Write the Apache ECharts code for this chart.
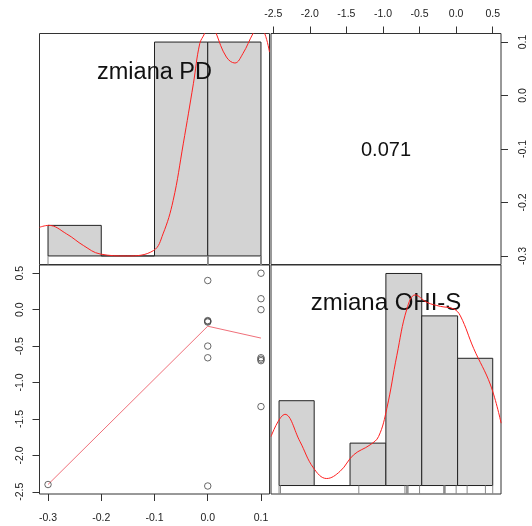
<!DOCTYPE html>
<html><head><meta charset="utf-8">
<script src="https://cdn.jsdelivr.net/npm/echarts@6/dist/echarts.min.js"></script>
<style>html,body{margin:0;padding:0;background:#fff}#c{width:532px;height:526px}</style>
</head><body><div id="c"></div>
<script>
// ---- data ----
const varNames = ['zmiana PD', 'zmiana OHI-S'];
const corText = '0.071';
const pdValues  = [-0.3, 0, 0, 0, 0, 0, 0, 0, 0.1, 0.1, 0.1, 0.1, 0.1, 0.1, 0.1];
const ohiValues = [-2.4, 0.4, -0.15, -0.16, -0.17, -0.5, -0.66, -2.42, 0.5, 0.15, 0.0, -0.66, -0.68, -0.7, -1.33];
const pdBreaks  = [-0.3, -0.2, -0.1, 0, 0.1];
const pdCounts  = [1, 0, 7, 7];
const ohiBreaks = [-2.42, -1.94, -1.45, -0.96, -0.47, 0.02, 0.5];
const ohiCounts = [2, 0, 1, 5, 4, 3];
const pdDensX = [-0.316, -0.299, -0.265, -0.233, -0.202, -0.152, -0.102, -0.084, -0.065, -0.046, -0.027, -0.015, -0.006, 0.005, 0.016, 0.035, 0.051, 0.066, 0.085, 0.096, 0.107, 0.116];
const pdDensY = [0.134, 0.143, 0.103, 0.048, 0.009, 0.0, 0.025, 0.103, 0.259, 0.524, 0.805, 0.993, 1.04, 1.12, 1.04, 0.93, 0.902, 0.946, 1.04, 1.08, 1.04, 0.953];
const ohiDensX = [-2.53, -2.34, -2.135, -1.95, -1.77, -1.586, -1.40, -1.175, -1.06, -0.947, -0.81, -0.673, -0.559, -0.40, -0.216, -0.034, 0.058, 0.24, 0.47, 0.615];
const ohiDensY = [0.231, 0.336, 0.208, 0.083, 0.033, 0.067, 0.145, 0.192, 0.231, 0.364, 0.614, 0.833, 0.899, 0.864, 0.845, 0.833, 0.80, 0.646, 0.474, 0.294];
const smoothX = [-0.3, 0, 0.1];
const smoothY = [-2.4, -0.227, -0.39];
const pdTicks  = [-0.3, -0.2, -0.1, 0, 0.1];
const ohiTicks = [-2.5, -2, -1.5, -1, -0.5, 0, 0.5];

// ---- build ----
const pdRange = [-0.316, 0.116];
const ohiRange = [-2.53, 0.613];
const histRange = [-0.04, 1.04];
const FONT = '"Liberation Sans", Arial, sans-serif';
const zip = (a, b) => a.map((v, i) => [v, b[i]]);

function hiddenAxis(grid, r) {
  return {type: 'value', gridIndex: grid, min: r[0], max: r[1], show: false};
}
function shownAxis(grid, r, pos, ticks, margin, rotate) {
  return {
    type: 'value', gridIndex: grid, min: r[0], max: r[1], position: pos,
    splitLine: {show: false}, axisLine: {show: false, onZero: false},
    axisTick: {show: true, length: 7, customValues: ticks, lineStyle: {color: '#333', width: 1}},
    axisLabel: {show: true, customValues: ticks, formatter: v => Number(v).toFixed(1),
      fontSize: 10.5, color: '#222', fontFamily: FONT, margin: margin, rotate: rotate || 0}
  };
}
function histSeries(xi, breaks, counts) {
  const mx = Math.max(...counts);
  return {
    type: 'custom', xAxisIndex: xi, yAxisIndex: xi, z: 2, clip: true,
    data: counts.map((c, i) => [breaks[i], breaks[i + 1], c / mx]),
    renderItem: (params, api) => {
      const p0 = api.coord([api.value(0), 0]);
      const p1 = api.coord([api.value(1), api.value(2)]);
      return {type: 'rect', shape: {x: p0[0], y: p1[1], width: p1[0] - p0[0], height: p0[1] - p1[1]},
        style: {fill: '#d3d3d3', stroke: '#222', lineWidth: 1}};
    }
  };
}
function rugSeries(xi, vals) {
  return {
    type: 'custom', xAxisIndex: xi, yAxisIndex: xi, z: 2,
    data: vals.map(v => [v]),
    renderItem: (params, api) => {
      const a = api.coord([api.value(0), histRange[0]]);
      const b = api.coord([api.value(0), 0]);
      return {type: 'line', shape: {x1: a[0], y1: a[1], x2: b[0], y2: b[1]},
        style: {stroke: '#888', lineWidth: 1}};
    }
  };
}
function densSeries(xi, xs, ys) {
  return {type: 'line', xAxisIndex: xi, yAxisIndex: xi, data: zip(xs, ys), smooth: 0.4,
    showSymbol: false, symbol: 'none', clip: true, z: 5, silent: true,
    lineStyle: {color: '#ff2020', width: 1}};
}

const gridStyle = {show: true, borderColor: '#333', borderWidth: 1, backgroundColor: 'transparent'};
const option = {
  animation: false,
  backgroundColor: '#fff',
  grid: [
    Object.assign({left: 39.5, top: 33.5, width: 230, height: 231}, gridStyle),
    Object.assign({left: 271, top: 33.5, width: 230, height: 231}, gridStyle),
    Object.assign({left: 39.5, top: 265, width: 230, height: 229}, gridStyle),
    Object.assign({left: 271, top: 265, width: 230, height: 229}, gridStyle)
  ],
  xAxis: [
    hiddenAxis(0, pdRange),
    shownAxis(1, ohiRange, 'top', ohiTicks, 14),
    shownAxis(2, pdRange, 'bottom', pdTicks, 19),
    hiddenAxis(3, ohiRange)
  ],
  yAxis: [
    hiddenAxis(0, histRange),
    shownAxis(1, pdRange, 'right', pdTicks, 17, 90),
    shownAxis(2, ohiRange, 'left', ohiTicks, 14, 90),
    hiddenAxis(3, histRange)
  ],
  graphic: [
    {type: 'text', z: 3, x: 154.5, y: 73, style: {text: varNames[0], fontSize: 23.5, fontFamily: FONT, fill: '#111', align: 'center', verticalAlign: 'middle'}},
    {type: 'text', z: 3, x: 386, y: 303, style: {text: varNames[1], fontSize: 24, fontFamily: FONT, fill: '#111', align: 'center', verticalAlign: 'middle'}},
    {type: 'text', z: 3, x: 386, y: 150, style: {text: corText, fontSize: 20, fontFamily: FONT, fill: '#111', align: 'center', verticalAlign: 'middle'}}
  ],
  series: [
    histSeries(0, pdBreaks, pdCounts),
    rugSeries(0, pdValues),
    densSeries(0, pdDensX, pdDensY),
    {type: 'scatter', xAxisIndex: 2, yAxisIndex: 2, data: zip(pdValues, ohiValues), symbol: 'circle',
      symbolSize: 6.5, itemStyle: {color: 'rgba(0,0,0,0)', borderColor: '#444', borderWidth: 1}, z: 4},
    {type: 'line', xAxisIndex: 2, yAxisIndex: 2, data: zip(smoothX, smoothY), showSymbol: false, symbol: 'none',
      lineStyle: {color: '#f0707a', width: 1}, z: 3},
    histSeries(3, ohiBreaks, ohiCounts),
    rugSeries(3, ohiValues),
    densSeries(3, ohiDensX, ohiDensY)
  ]
};
const chart = echarts.init(document.getElementById('c'), null, {renderer: 'canvas'});
chart.setOption(option);
</script></body></html>
